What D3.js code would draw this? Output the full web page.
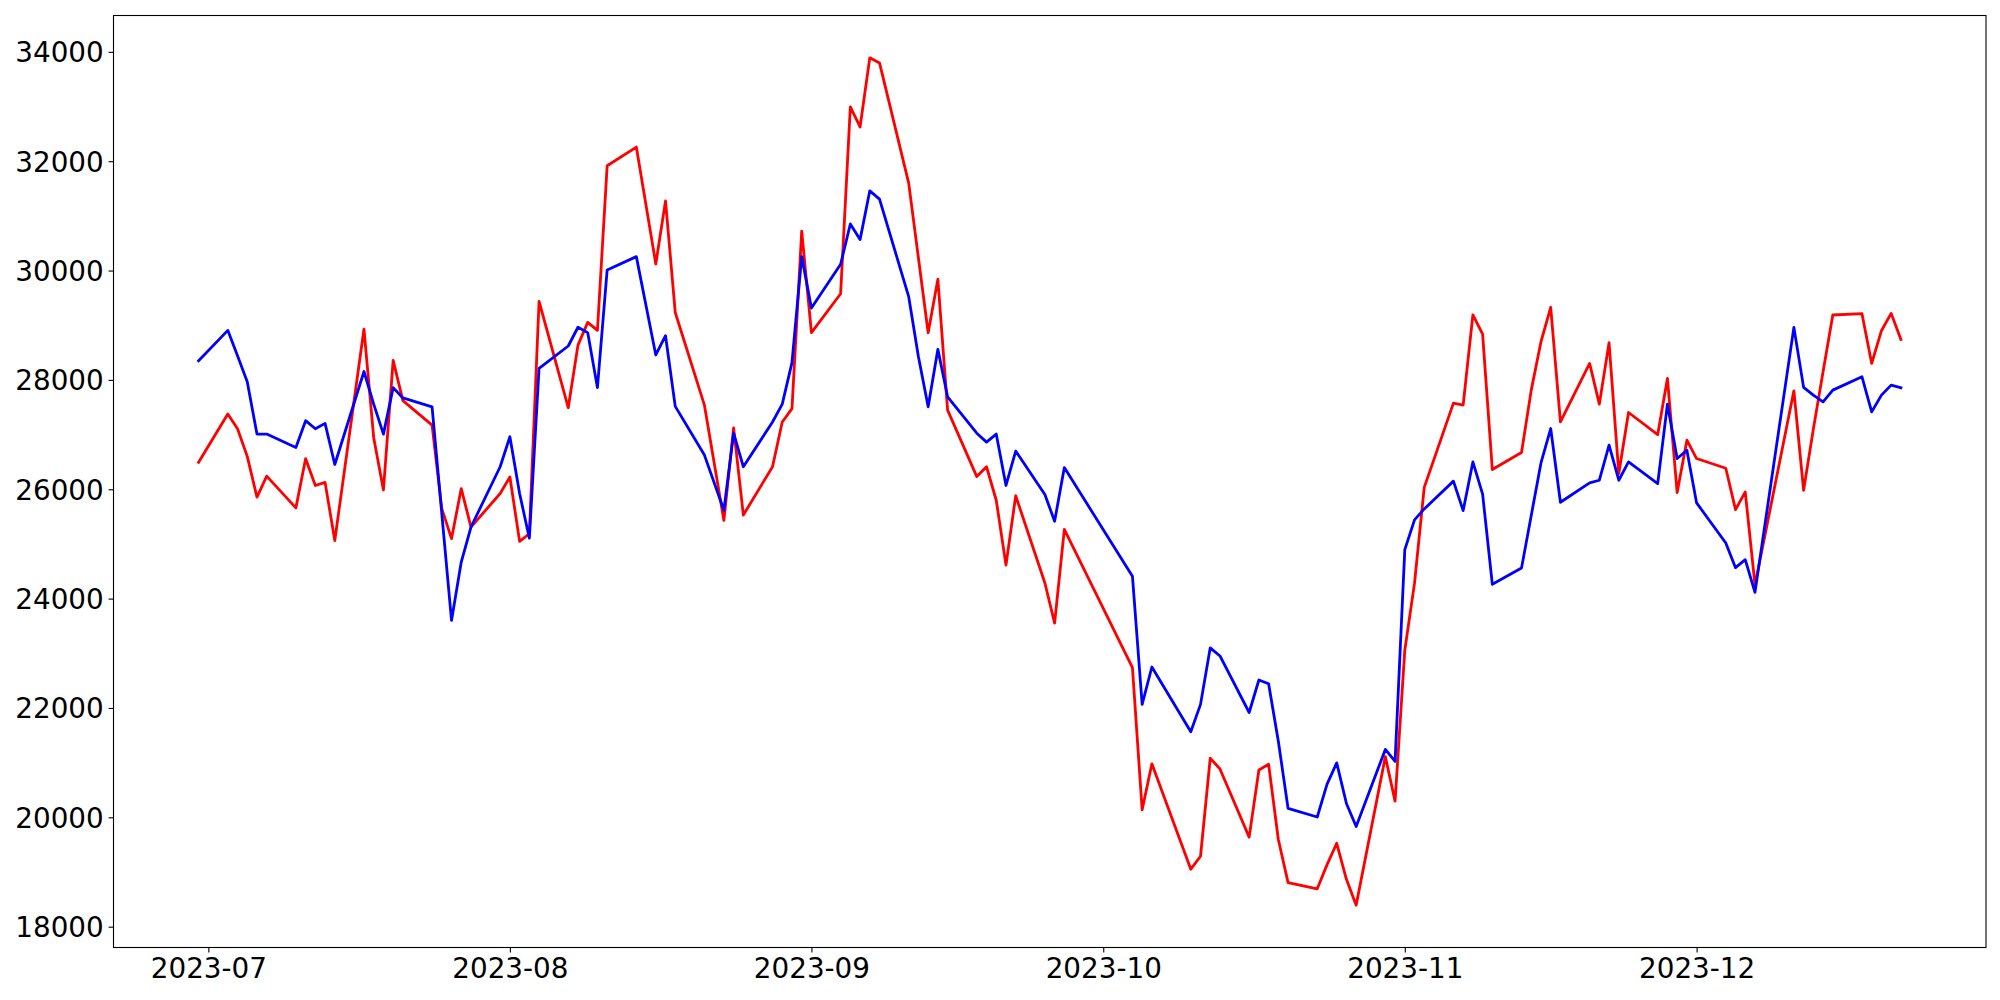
<!DOCTYPE html>
<html>
<head>
<meta charset="utf-8">
<script src="https://cdn.jsdelivr.net/npm/d3@7"></script>
<style>
    body { margin: 0; background: #fff; }
    .axis text { font-family: "DejaVu Sans", sans-serif; font-size: 27.8px; fill: #000; }
    .axis path, .axis line { stroke: #000; stroke-width: 1.1; }
    .series { fill: none; stroke-width: 2.8; stroke-linejoin: round; stroke-linecap: square; }
</style>
</head>
<body>
<div id="chart-area"></div>
<script>

// trading days (KRX calendar, a few dates missing)
var dates = [
    "2023-06-30",
    "2023-07-03","2023-07-04","2023-07-05","2023-07-06","2023-07-07",
    "2023-07-10","2023-07-11","2023-07-12","2023-07-13","2023-07-14",
    "2023-07-17","2023-07-18","2023-07-19","2023-07-20","2023-07-21",
    "2023-07-24","2023-07-25","2023-07-26","2023-07-27","2023-07-28",
    "2023-07-31","2023-08-01","2023-08-02","2023-08-03","2023-08-04",
    "2023-08-07","2023-08-08","2023-08-09","2023-08-10","2023-08-11",
    "2023-08-14","2023-08-16","2023-08-17","2023-08-18",
    "2023-08-21","2023-08-23","2023-08-24","2023-08-25",
    "2023-08-28","2023-08-29","2023-08-30","2023-08-31","2023-09-01",
    "2023-09-04","2023-09-05","2023-09-06","2023-09-07","2023-09-08",
    "2023-09-11","2023-09-12","2023-09-13","2023-09-14","2023-09-15",
    "2023-09-18","2023-09-19","2023-09-20","2023-09-21","2023-09-22",
    "2023-09-25","2023-09-26","2023-09-27",
    "2023-10-04","2023-10-05","2023-10-06",
    "2023-10-10","2023-10-11","2023-10-12","2023-10-13",
    "2023-10-16","2023-10-17","2023-10-18","2023-10-19","2023-10-20",
    "2023-10-23","2023-10-24","2023-10-25","2023-10-26","2023-10-27",
    "2023-10-30","2023-10-31","2023-11-01","2023-11-02","2023-11-03",
    "2023-11-06","2023-11-07","2023-11-08","2023-11-09","2023-11-10",
    "2023-11-13","2023-11-14","2023-11-15","2023-11-16","2023-11-17",
    "2023-11-20","2023-11-21","2023-11-22","2023-11-23","2023-11-24",
    "2023-11-27","2023-11-28","2023-11-29","2023-11-30","2023-12-01",
    "2023-12-04","2023-12-05","2023-12-06","2023-12-07",
    "2023-12-11","2023-12-12","2023-12-13","2023-12-14","2023-12-15",
    "2023-12-18","2023-12-19","2023-12-20","2023-12-21","2023-12-22"
];

var redValues = [
    26494,
    27377, 27107, 26601, 25856, 26241,
    25660, 26559, 26069, 26126, 25063,
    28930, 26944, 25987, 28358, 27620,
    27172, 25647, 25097, 26013, 25309,
    25922, 26224, 25047, 25186, 29437,
    27491, 28636, 29053, 28906, 31916,
    32258, 30121, 31275, 29233,
    27538, 25430, 27124, 25529,
    26412, 27230, 27475, 30721, 28865,
    29576, 32994, 32626, 33890, 33797,
    31599, 30230, 28863, 29841, 27447,
    26232, 26412, 25799, 24613, 25881,
    24286, 23551, 25268,
    22740, 20138, 20979,
    19051, 19288, 21084, 20883,
    19638, 20865, 20970, 19595, 18806,
    18692, 19130, 19525, 18867, 18394,
    21110, 20295, 23056, 24283, 26035,
    27575, 27540, 29190, 28836, 26360,
    26672, 27813, 28698, 29328, 27233,
    28302, 27557, 28680, 26287, 27404,
    27001, 28027, 25939, 26898, 26562,
    26385, 25628, 25951, 24250,
    27800, 25982, 27100, 28150, 29187,
    29211, 28302, 28900, 29217, 28741
];

var blueValues = [
    28350,
    28906, 28440, 27966, 27009, 27009,
    26764, 27254, 27107, 27205, 26453,
    28154, 27557, 27009, 27859, 27670,
    27508, 25555, 23601, 24669, 25309,
    26412, 26960, 25922, 25104, 28211,
    28620, 28963, 28865, 27859, 30011,
    30255, 28456, 28808, 27516,
    26625, 25616, 27025, 26412,
    27230, 27557, 28317, 30255, 29315,
    30116, 30852, 30566, 31458, 31306,
    29522, 28423, 27508, 28559, 27691,
    27025, 26862, 27009, 26069, 26698,
    25905, 25415, 26396,
    24410, 22066, 22749,
    21566, 22066, 23100, 22951,
    21917, 22512, 22442, 21391, 20164,
    20006, 20602, 20996, 20252, 19831,
    21242, 21023, 24896, 25439, 25641,
    26149, 25610, 26500, 25910, 24262,
    24559, 25520, 26482, 27111, 25762,
    26116, 26165, 26806, 26165, 26501,
    26104, 27557, 26562, 26714, 25750,
    25017, 24566, 24712, 24115,
    28961, 27863, 27722, 27599, 27813,
    28057, 27416, 27722, 27905, 27856
];

var xTickLabels = ["2023-07", "2023-08", "2023-09", "2023-10", "2023-11", "2023-12"];
var yTickValues = [18000, 20000, 22000, 24000, 26000, 28000, 30000, 32000, 34000];


/*
 * LineVis - draws the two series on a shared time axis
 */

LineVis = function(_parentElement, _series){
    this.parentElement = _parentElement;
    this.series = _series;
    this.displayData = [];

    this.initVis();
}

LineVis.prototype.initVis = function(){
    var vis = this;

    vis.margin = { top: 15.5, right: 14, bottom: 52.5, left: 113.5 };
    vis.width = 2000 - vis.margin.left - vis.margin.right;
    vis.height = 1000 - vis.margin.top - vis.margin.bottom;

    vis.svg = d3.select("#" + vis.parentElement).append("svg")
        .attr("width", 2000)
        .attr("height", 1000)
        .style("display", "block")
        .append("g")
        .attr("transform", "translate(" + vis.margin.left + "," + vis.margin.top + ")");

    vis.parseDate = d3.utcParse("%Y-%m-%d");
    vis.parseMonth = d3.utcParse("%Y-%m");

    vis.x = d3.scaleUtc().range([0, vis.width]);
    vis.y = d3.scaleLinear().range([vis.height, 0]);

    vis.xAxis = d3.axisBottom(vis.x)
        .tickValues(xTickLabels.map(vis.parseMonth))
        .tickFormat(d3.utcFormat("%Y-%m"))
        .tickSizeOuter(0)
        .tickSize(4.9)
        .tickPadding(4.9);

    vis.yAxis = d3.axisLeft(vis.y)
        .tickValues(yTickValues)
        .tickFormat(d3.format("d"))
        .tickSizeOuter(0)
        .tickSize(4.9)
        .tickPadding(4.9);

    vis.line = d3.line()
        .x(function(d){ return vis.x(d.date); })
        .y(function(d){ return vis.y(d.value); });

    vis.wrangleData();
}

LineVis.prototype.wrangleData = function(){
    var vis = this;

    vis.displayData = vis.series.map(function(s){
        return {
            color: s.color,
            values: dates.map(function(d, i){
                return { date: vis.parseDate(d), value: s.values[i] };
            })
        };
    });

    vis.updateVis();
}

LineVis.prototype.updateVis = function(){
    var vis = this;

    // matplotlib style 5% margins on both axes
    var allPoints = d3.merge(vis.displayData.map(function(s){ return s.values; }));
    var xExt = d3.extent(allPoints, function(d){ return +d.date; });
    var yExt = d3.extent(allPoints, function(d){ return d.value; });
    var xPad = (xExt[1] - xExt[0]) * 0.05;
    var yPad = (yExt[1] - yExt[0]) * 0.05;
    vis.x.domain([new Date(xExt[0] - xPad), new Date(xExt[1] + xPad)]);
    vis.y.domain([yExt[0] - yPad, yExt[1] + yPad]);

    vis.svg.selectAll(".series")
        .data(vis.displayData)
        .enter().append("path")
        .attr("class", "series")
        .attr("stroke", function(d){ return d.color; })
        .attr("d", function(d){ return vis.line(d.values); });

    var xg = vis.svg.append("g")
        .attr("class", "x-axis axis")
        .attr("transform", "translate(0," + vis.height + ")")
        .call(vis.xAxis);
    xg.select(".domain").remove();
    xg.selectAll("text").attr("dy", "0.76em");

    var yg = vis.svg.append("g")
        .attr("class", "y-axis axis")
        .call(vis.yAxis);
    yg.select(".domain").remove();
    yg.selectAll("text").attr("dy", "0.36em");

    // frame (all four spines)
    vis.svg.append("rect")
        .attr("width", vis.width)
        .attr("height", vis.height)
        .attr("fill", "none")
        .attr("stroke", "#000")
        .attr("stroke-width", 1.1);
}

var chart = new LineVis("chart-area", [
    { color: "red", values: redValues },
    { color: "blue", values: blueValues }
]);

</script>
</body>
</html>
